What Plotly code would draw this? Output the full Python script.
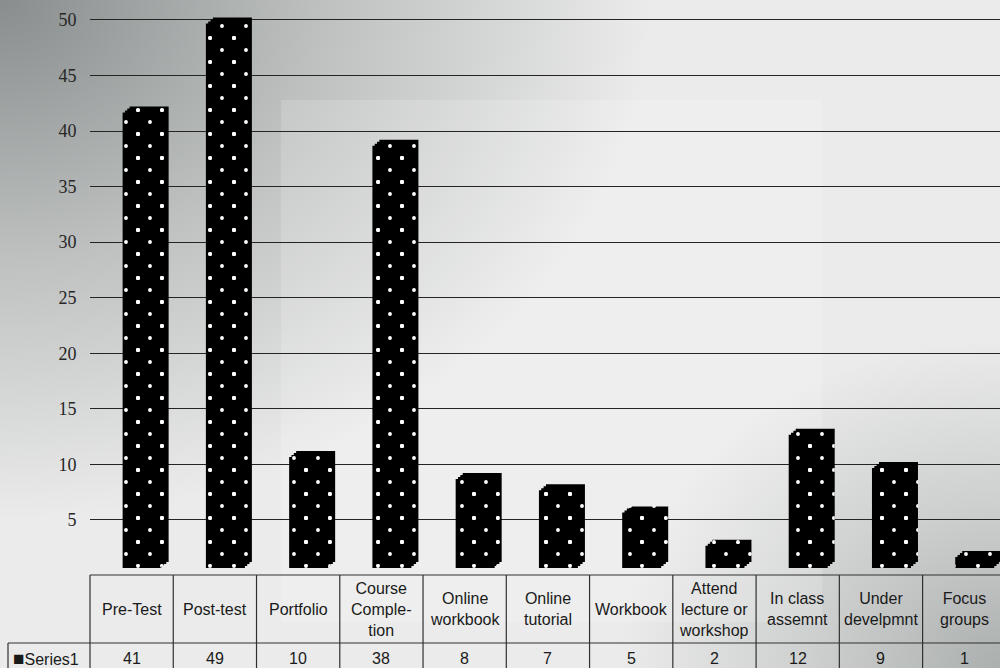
import plotly.graph_objects as go

# ---- data -------------------------------------------------------------
categories = ["Pre-Test", "Post-test", "Portfolio", "Course Completion",
              "Online workbook", "Online tutorial", "Workbook",
              "Attend lecture or workshop", "In class assemnt",
              "Under develpmnt", "Focus groups"]
header_labels = ["Pre-Test", "Post-test", "Portfolio", "Course<br>Comple-<br>tion",
                 "Online<br>workbook", "Online<br>tutorial", "Workbook",
                 "Attend<br>lecture or<br>workshop", "In class<br>assemnt",
                 "Under<br>develpmnt", "Focus<br>groups"]
series_name = "Series1"
values = [41, 49, 10, 38, 8, 7, 5, 2, 12, 9, 1]
y_ticks = [5, 10, 15, 20, 25, 30, 35, 40, 45, 50]

# ---- page geometry (pixels) -------------------------------------------
W, H = 1000, 668
LEFT, RIGHT = 90, 1000          # horizontal extent of the plot area
TOP, BOTTOM = 14, 590           # vertical extent of the plot area
COL_W = 83.26                   # width of one category / table column
Y_SCALE = 500 / 45              # pixels per value unit
ZERO_PX = 575.5                 # pixel row of value 0 on the back wall
FRONT_BASE_PX = 568             # pixel row where the front faces stand
DEPTH_X, DEPTH_Y = 7, 6         # 3-D depth of the columns
DEPTH_STEPS = 4                 # slices used to build the bevelled sides
DOT_STEP = 24                   # spacing of the dot fill
HEADER_MID_PX, VALUE_MID_PX = 609, 658
HEADER_TOP_PX, ROW_SEP_PX = 575, 643
KEY_LEFT_PX = 8

FRONT_OFFSET = -9 / COL_W
BAR_WIDTH = 39 / COL_W


def x_range(left_px):
    c0 = LEFT + COL_W / 2
    return [(left_px - c0) / COL_W, (RIGHT - c0) / COL_W]


def y_dom(top, bottom):
    return [1 - bottom / H, 1 - top / H]


def y_rng(top, bottom, zero_px):
    return [(zero_px - bottom) / Y_SCALE, (zero_px - top) / Y_SCALE]


INK = "#242424"
fig = go.Figure()

# ---- scanned-paper background (subplot x/y in page pixels) ------------
def blob(cx, cy, rx, ry, rgb, alpha):
    fig.add_trace(go.Scatter(
        x=[cx - rx, cx + rx, cx + rx, cx - rx], y=[cy - ry, cy - ry, cy + ry, cy + ry],
        fill="toself", mode="none", hoverinfo="skip", showlegend=False,
        fillgradient=dict(type="radial", colorscale=[
            [0, f"rgba({rgb},{alpha})"],
            [0.5, f"rgba({rgb},{alpha * 0.45})"],
            [1, f"rgba({rgb},0)"]]),
        xaxis="x", yaxis="y"))


blob(0, H, 650, 520, "112,118,118", 0.8)
blob(W, 0, 380, 330, "120,126,126", 0.55)
# faint lighter sheet laid over the middle of the chart
fig.add_trace(go.Scatter(
    x=[281, 822, 822, 281], y=[H - 622, H - 622, H - 100, H - 100],
    fill="toself", mode="none", fillcolor="rgba(255,255,255,0.16)",
    hoverinfo="skip", showlegend=False, xaxis="x", yaxis="y"))

# back-wall value axis (carries the gridlines and tick labels)
fig.add_trace(go.Scatter(x=categories, y=values, mode="none", xaxis="x2", yaxis="y2",
                         hoverinfo="skip", showlegend=False))

# ---- 3-D columns ------------------------------------------------------
hidden = dict(visible=False, showgrid=False, zeroline=False, fixedrange=True)
half = DOT_STEP / 2
main_dom = y_dom(TOP, BOTTOM)
dots_dom = y_dom(TOP - half, BOTTOM - half)
axes = {}


def column_slice(xaxis, yaxis, offset, color):
    fig.add_trace(go.Bar(
        x=categories, y=values, xaxis=xaxis, yaxis=yaxis,
        offset=offset, width=BAR_WIDTH, name=series_name, showlegend=False,
        marker=dict(color=color, line=dict(width=0),
                    pattern=dict(shape=".", size=DOT_STEP, solidity=0.02,
                                 fgcolor="white", bgcolor=color, fillmode="replace")),
        hoverinfo="x+y"))


# Each column is a stack of slices stepping back in depth; the first set
# carries one dot lattice, the second set (on a subplot shifted by half a
# dot step) adds the staggered lattice on a transparent fill.
next_y = 3
for layer, (xa, top, bottom, dom, color) in enumerate([
        ("x2", TOP, BOTTOM, main_dom, "black"),
        ("x3", TOP - half, BOTTOM - half, dots_dom, "rgba(0,0,0,0)")]):
    first = None
    for k in reversed(range(DEPTH_STEPS)):
        frac = k / (DEPTH_STEPS - 1)
        name = f"y{next_y}"
        key = f"yaxis{next_y}"
        ax = dict(domain=dom, anchor=xa,
                  range=y_rng(top, bottom, FRONT_BASE_PX - DEPTH_Y * frac), **hidden)
        if layer == 0:
            ax["overlaying"] = "y2"
        elif first is not None:
            ax["overlaying"] = first
        else:
            first = name
        axes[key] = ax
        column_slice(xa, name, FRONT_OFFSET + DEPTH_X * frac / COL_W, color)
        next_y += 1
    if layer == 1:
        axes["xaxis3"] = dict(domain=[(LEFT - half) / W, 1], range=x_range(LEFT - half),
                              anchor=first, type="category", categoryarray=categories,
                              **hidden)

fig.update_layout(
    width=W, height=H, template="none",
    margin=dict(l=0, r=0, t=0, b=0),
    paper_bgcolor="#eaebea", plot_bgcolor="rgba(0,0,0,0)",
    showlegend=False, barmode="overlay",
    xaxis=dict(domain=[0, 1], range=[0, W], anchor="y", **hidden),
    yaxis=dict(domain=[0, 1], range=[0, H], anchor="x", **hidden),
    xaxis2=dict(domain=[LEFT / W, 1], range=x_range(LEFT), anchor="y2",
                type="category", categoryarray=categories, **hidden),
    yaxis2=dict(domain=main_dom, range=y_rng(TOP, BOTTOM, ZERO_PX),
                anchor="x2", tickvals=y_ticks, showgrid=True, gridcolor=INK,
                gridwidth=1.3, zeroline=False, showline=False,
                ticks="outside", ticklen=9, tickcolor="rgba(0,0,0,0)",
                tickfont=dict(family="Liberation Serif", size=18, color="#262626"),
                fixedrange=True),
    **axes,
)

# ---- data table under the chart ---------------------------------------
line_style = dict(color="#303030", width=1.2)
py = lambda p: 1 - p / H
shapes = [
    dict(type="line", xref="paper", yref="paper", x0=LEFT / W, x1=1,
         y0=py(HEADER_TOP_PX), y1=py(HEADER_TOP_PX), line=line_style),
    dict(type="line", xref="paper", yref="paper", x0=KEY_LEFT_PX / W, x1=1,
         y0=py(ROW_SEP_PX), y1=py(ROW_SEP_PX), line=line_style),
    dict(type="line", xref="paper", yref="paper", x0=KEY_LEFT_PX / W, x1=KEY_LEFT_PX / W,
         y0=py(ROW_SEP_PX), y1=0, line=line_style),
    dict(type="line", xref="paper", yref="paper", x0=LEFT / W, x1=LEFT / W,
         y0=py(HEADER_TOP_PX), y1=0, line=line_style),
]
for i in range(1, len(categories)):
    shapes.append(dict(type="line", xref="x2", yref="paper", x0=i - 0.5, x1=i - 0.5,
                       y0=py(HEADER_TOP_PX), y1=0, line=line_style))

table_font = dict(family="Liberation Sans", size=16, color="#1a1a1a")
annotations = []
for cat, label, val in zip(categories, header_labels, values):
    annotations.append(dict(xref="x2", yref="paper", x=cat, y=py(HEADER_MID_PX),
                            text=label, showarrow=False, font=table_font,
                            xanchor="center", yanchor="middle", align="center"))
    annotations.append(dict(xref="x2", yref="paper", x=cat, y=py(VALUE_MID_PX),
                            text=str(val), showarrow=False, font=table_font,
                            xanchor="center", yanchor="middle"))
annotations.append(dict(xref="paper", yref="paper", x=(KEY_LEFT_PX + 3) / W,
                        y=py(VALUE_MID_PX),
                        text='<span style="font-size:19px">■</span>' + series_name,
                        showarrow=False, font=table_font,
                        xanchor="left", yanchor="middle"))

fig.update_layout(shapes=shapes, annotations=annotations)
fig.write_html("out.html")
